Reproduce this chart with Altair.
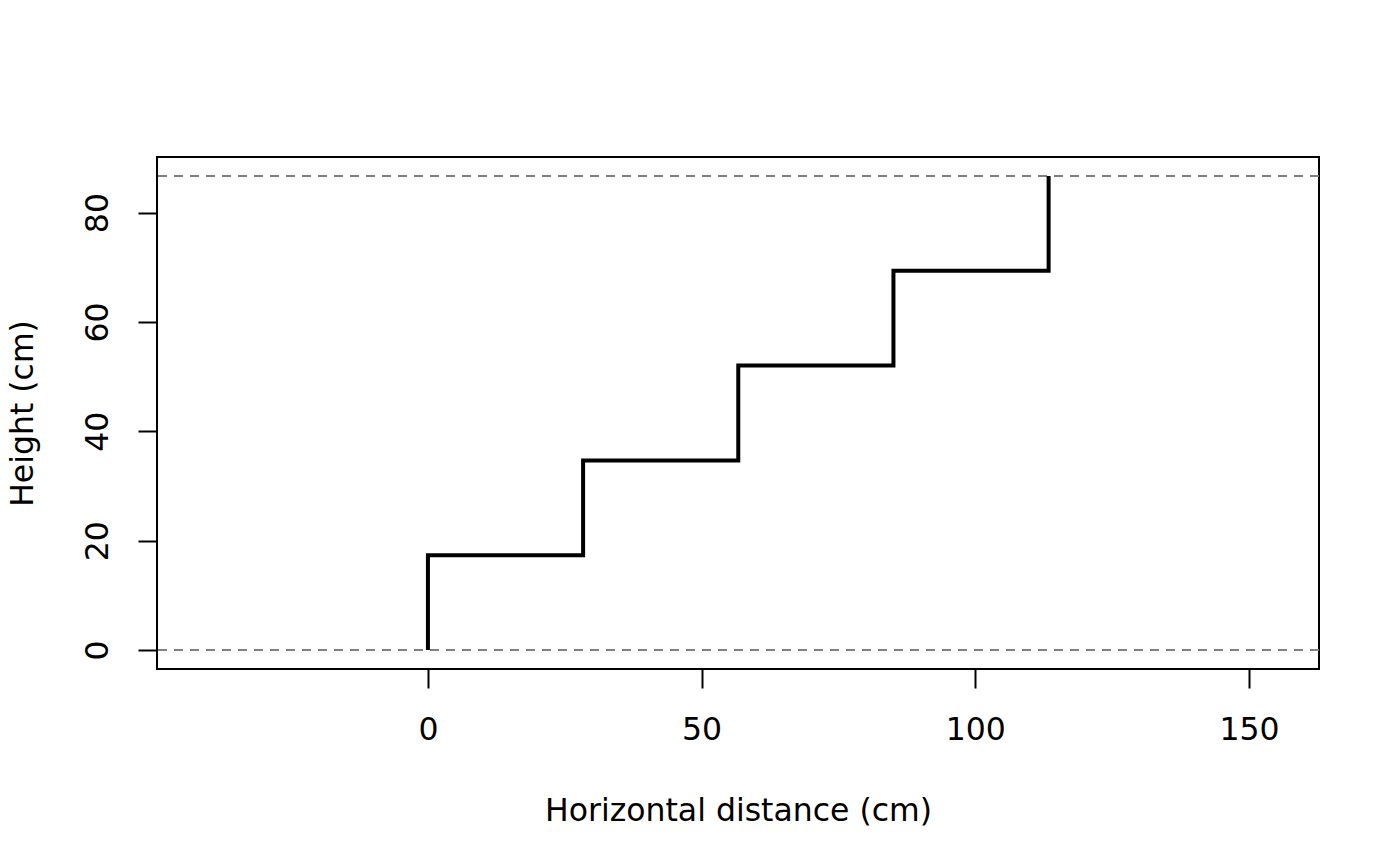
import altair as alt
import pandas as pd

# Stair profile vertices (cm)
stair_x = [0, 0, 28.35, 28.35, 56.7, 56.7, 85.05, 85.05, 113.4, 113.4]
stair_y = [0, 17.34, 17.34, 34.68, 34.68, 52.02, 52.02, 69.36, 69.36, 86.7]
ref_y = [0, 86.7]
x_ticks = [0, 50, 100, 150]
y_ticks = [0, 20, 40, 60, 80]
x_domain = [-49.5, 162.8]
y_domain = [-3.47, 90.17]

stairs = pd.DataFrame({"x": stair_x, "y": stair_y, "order": list(range(len(stair_x)))})
refs = pd.DataFrame({"y": ref_y})

FONT = "DejaVu Sans"
FS = 31.5

xscale = alt.Scale(domain=x_domain, nice=False, zero=False)
yscale = alt.Scale(domain=y_domain, nice=False, zero=False)

xaxis = alt.Axis(values=x_ticks, title="Horizontal distance (cm)", grid=False, domain=False,
                 tickSize=19, tickWidth=2, tickColor="black", labelFontSize=FS, labelFont=FONT,
                 labelColor="black", labelPadding=26, titleFontSize=FS, titleFont=FONT,
                 titleFontWeight="normal", titleColor="black", titlePadding=50, labelFlush=False)
yaxis = alt.Axis(values=y_ticks, title="Height (cm)", grid=False, domain=False,
                 tickSize=19, tickWidth=2, tickColor="black", labelFontSize=FS, labelFont=FONT,
                 labelColor="black", labelAngle=270, labelPadding=24, titleFontSize=FS,
                 titleFont=FONT, titleFontWeight="normal", titleColor="black", titlePadding=43,
                 labelFlush=False)

ref_layer = alt.Chart(refs).mark_rule(color="#808080", strokeWidth=2, strokeDash=[9, 7]).encode(
    y=alt.Y("y:Q", scale=yscale, axis=yaxis)
)

stair_layer = alt.Chart(stairs).mark_line(color="black", strokeWidth=4, strokeJoin="miter", strokeCap="butt").encode(
    x=alt.X("x:Q", scale=xscale, axis=xaxis),
    y=alt.Y("y:Q", scale=yscale, axis=yaxis),
    order="order:Q",
)

chart = alt.layer(ref_layer, stair_layer).properties(
    width=1162, height=512,
    autosize=alt.AutoSizeParams(type="none"),
    padding={"left": 149, "top": 149, "right": 60, "bottom": 180},
    background="white",
).configure_view(stroke="black", strokeWidth=2)

chart.save("out.html", embed_options={"renderer": "svg", "actions": False})
